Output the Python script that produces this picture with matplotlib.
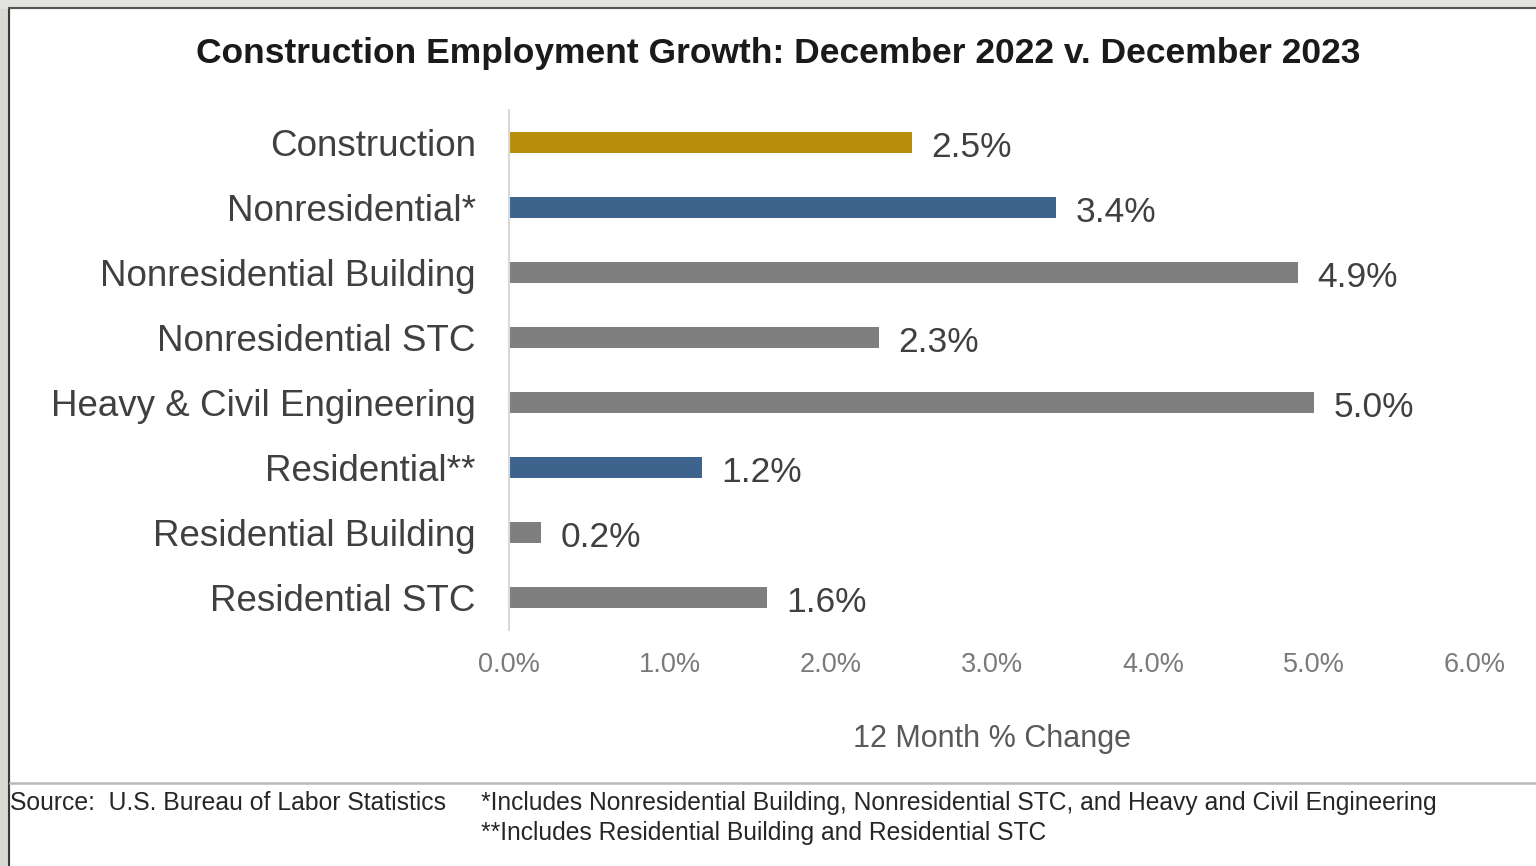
import matplotlib
matplotlib.use("Agg")
import matplotlib.pyplot as plt
from matplotlib.patches import Rectangle
from matplotlib.lines import Line2D

plt.rcParams['font.family'] = ['Liberation Sans', 'DejaVu Sans']

categories = ["Construction", "Nonresidential*", "Nonresidential Building",
              "Nonresidential STC", "Heavy & Civil Engineering", "Residential**",
              "Residential Building", "Residential STC"]
values = [2.5, 3.4, 4.9, 2.3, 5.0, 1.2, 0.2, 1.6]
bar_colors = ["#b88e0c", "#3e648e", "#7f7f7f", "#7f7f7f",
              "#7f7f7f", "#3e648e", "#7f7f7f", "#7f7f7f"]
x_ticks = [0, 1, 2, 3, 4, 5, 6]

title = "Construction Employment Growth: December 2022 v. December 2023"
source = "Source:  U.S. Bureau of Labor Statistics"
note1 = "*Includes Nonresidential Building, Nonresidential STC, and Heavy and Civil Engineering"
note2 = "**Includes Residential Building and Residential STC"

W, H = 1536, 866
fig = plt.figure(figsize=(W / 100, H / 100), dpi=100)
fig.patch.set_facecolor("white")

def px(x, y):
    return x / W, 1 - y / H

# grey surround and frame of the slide
fig.add_artist(Rectangle((0, 0), 9 / W, 1, transform=fig.transFigure,
                         color="#d9d9d5", zorder=0))
fig.add_artist(Rectangle((0, 1 - 8 / H), 1, 8 / H, transform=fig.transFigure,
                         color="#e3e3df", zorder=0))
fig.add_artist(Line2D([9 / W, 9 / W], [0, 1 - 8 / H], transform=fig.transFigure,
                      color="#3a3a3a", lw=1.5))
fig.add_artist(Line2D([9 / W, 1], [1 - 8 / H, 1 - 8 / H], transform=fig.transFigure,
                      color="#555555", lw=1.5))
fig.add_artist(Line2D([10 / W, 1], [1 - 783 / H, 1 - 783 / H], transform=fig.transFigure,
                      color="#b8b8b8", lw=1.8))

left, right, top, bottom = 509, 1475, 110, 630
ax = fig.add_axes([left / W, 1 - bottom / H, (right - left) / W, (bottom - top) / H])
ax.set_facecolor("none")

ypos = list(range(len(categories)))
ax.barh(ypos, values, height=0.32, color=bar_colors, zorder=2)
for y, v in zip(ypos, values):
    ax.annotate(f"{v:.1f}%", (v, y), xytext=(14, -1), textcoords="offset points",
                va="center_baseline", ha="left", fontsize=25.5, color="#404040")

ax.set_xlim(0, 6)
ax.set_ylim(len(categories) - 0.5, -0.5)
ax.set_yticks(ypos)
ax.set_yticklabels(categories, fontsize=26.5, color="#404040")
ax.set_xticks(x_ticks)
ax.set_xticklabels([f"{t:.1f}%" for t in x_ticks], fontsize=19.5, color="#7a7a7a")
ax.tick_params(axis="both", length=0)
ax.tick_params(axis="y", pad=24)
ax.tick_params(axis="x", pad=16)
for s in ["top", "right", "bottom"]:
    ax.spines[s].set_visible(False)
ax.spines["left"].set_color("#d9d9d9")
ax.spines["left"].set_linewidth(1.5)

ax.set_xlabel("12 Month % Change", fontsize=22, color="#595959", labelpad=33)

x, y = px(778, 54)
fig.text(x, y, title, ha="center", va="center", fontsize=25.5, fontweight="bold",
         color="#1a1a1a")

x, y = px(10, 803)
fig.text(x, y, source, ha="left", va="center", fontsize=17.8, color="#262626")
x, y = px(481, 803)
fig.text(x, y, note1, ha="left", va="center", fontsize=17.7, color="#262626")
x, y = px(481, 833)
fig.text(x, y, note2, ha="left", va="center", fontsize=17.7, color="#262626")

fig.savefig("out.png", dpi=100)
